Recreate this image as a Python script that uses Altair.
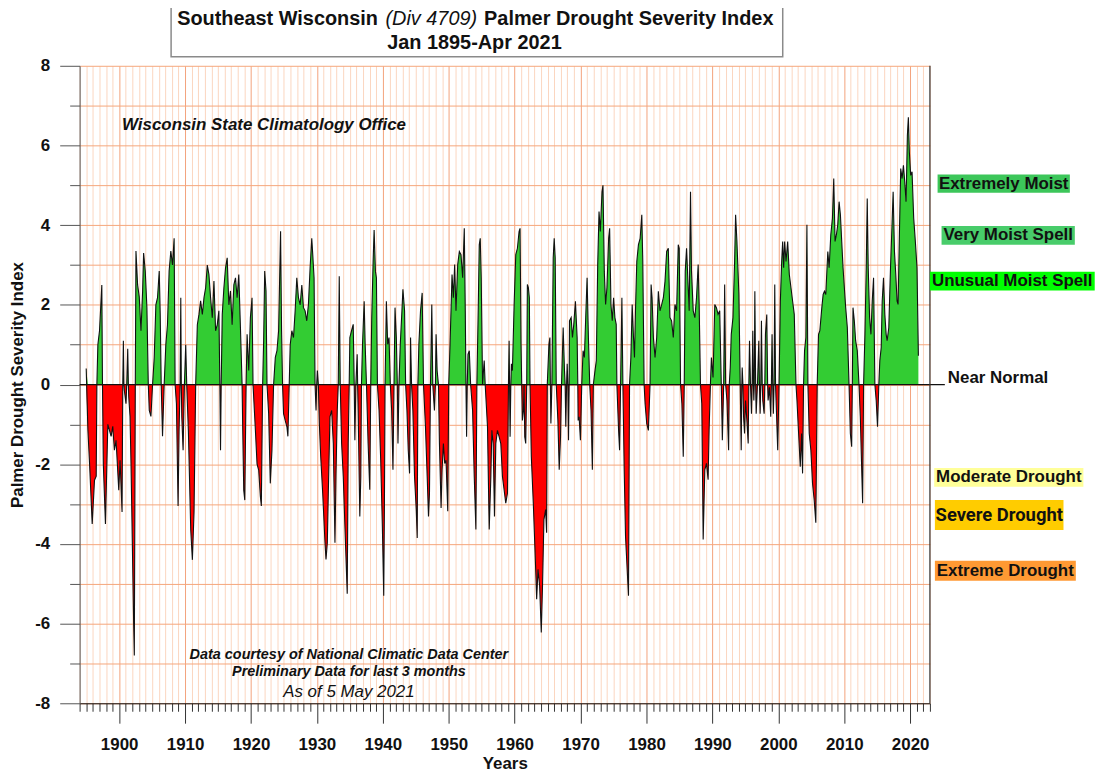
import altair as alt
import pandas as pd

# Monthly-ish PDSI readings (decimal year, index value)
era_1895_1926 = [
    (1895.00, 0.40), (1895.26, -1.15), (1895.51, -1.98), (1895.91, -3.50), (1896.26, -2.40),
    (1896.52, -2.30), (1896.62, 0.00), (1896.77, 1.00), (1897.02, 1.35), (1897.37, 2.50),
    (1897.47, 0.00), (1897.60, -2.00), (1897.92, -3.50), (1898.28, -1.00), (1898.53, -1.15),
    (1898.78, -1.30), (1899.03, -1.05), (1899.28, -1.65), (1899.53, -1.40), (1899.94, -2.65),
    (1900.14, -1.90), (1900.44, -3.20), (1900.55, 0.00), (1900.64, 1.10), (1900.72, 0.00),
    (1900.79, -0.15), (1901.04, -0.48), (1901.15, 0.00), (1901.30, 0.90), (1901.40, 0.00),
    (1901.45, -0.30), (1901.65, -0.80), (1901.80, -2.00), (1902.05, -4.50), (1902.20, -6.00),
    (1902.30, -6.80), (1902.45, 0.00), (1902.55, 3.35), (1902.80, 2.50), (1903.05, 2.20),
    (1903.31, 1.35), (1903.56, 2.35), (1903.71, 3.30), (1903.96, 2.85), (1904.21, 1.93),
    (1904.42, 0.00), (1904.57, -0.65), (1904.82, -0.80), (1905.07, 0.00), (1905.32, 0.68),
    (1905.57, 2.00), (1905.82, 2.18), (1906.08, 2.85), (1906.23, 1.76), (1906.38, 0.00),
    (1906.58, -1.30), (1906.83, 0.00), (1907.08, 1.00), (1907.33, 1.50), (1907.58, 2.85),
    (1907.84, 3.35), (1908.09, 3.00), (1908.34, 3.67), (1908.49, 0.00), (1908.69, -0.48),
    (1908.94, -3.05), (1909.09, -1.15), (1909.25, 0.00), (1909.35, 2.18), (1909.43, 0.00),
    (1909.50, -0.80), (1909.70, -1.65), (1909.90, 0.00), (1910.10, 1.00), (1910.25, 0.00),
    (1910.50, -1.15), (1910.86, -3.65), (1911.11, -4.40), (1911.36, -3.20), (1911.61, 0.00),
    (1911.86, 1.50), (1912.11, 1.76), (1912.36, 2.10), (1912.62, 1.76), (1912.87, 2.18),
    (1913.12, 2.43), (1913.37, 3.00), (1913.62, 2.76), (1913.87, 2.18), (1914.13, 1.68),
    (1914.38, 2.60), (1914.63, 1.35), (1914.88, 1.50), (1915.13, 1.85), (1915.28, 0.00),
    (1915.38, -1.65), (1915.48, 0.00), (1915.64, 1.76), (1915.89, 2.43), (1916.14, 2.93),
    (1916.39, 3.18), (1916.64, 2.00), (1916.89, 2.35), (1917.14, 1.50), (1917.40, 2.50),
    (1917.65, 2.68), (1917.90, 2.18), (1918.15, 2.76), (1918.40, 1.43), (1918.65, 0.00),
    (1918.75, -1.15), (1918.90, -2.65), (1919.06, -2.90), (1919.26, 0.00), (1919.41, 1.26),
    (1919.66, 0.35), (1919.91, 1.68), (1920.16, 2.18), (1920.31, 0.00), (1920.67, -1.15),
    (1920.92, -2.00), (1921.17, -2.15), (1921.42, -2.80), (1921.57, -3.05), (1921.77, 0.00),
    (1921.92, 1.10), (1922.08, 2.85), (1922.28, 2.35), (1922.43, 0.00), (1922.68, -0.73),
    (1922.93, -2.48), (1923.18, -1.65), (1923.43, 0.00), (1923.69, 0.68), (1923.94, 0.85),
    (1924.19, 1.35), (1924.49, 3.85), (1924.64, 1.35), (1924.79, 0.00), (1924.94, -0.73),
    (1925.19, -0.90), (1925.45, -1.06), (1925.60, -1.30), (1925.80, 0.00), (1925.95, 1.00),
    (1926.20, 1.35),
]

era_1926_1958 = [
    (1926.45, 1.18), (1926.70, 1.85), (1926.95, 2.68), (1927.20, 2.18), (1927.46, 2.00),
    (1927.71, 2.50), (1927.96, 1.93), (1928.21, 1.85), (1928.46, 1.60), (1928.71, 2.00),
    (1928.97, 2.93), (1929.22, 3.67), (1929.37, 3.26), (1929.57, 2.68), (1929.72, 0.00),
    (1929.87, -0.65), (1929.97, 0.00), (1930.07, 0.35), (1930.22, 0.00), (1930.37, -0.98),
    (1930.58, -1.81), (1930.88, -2.73), (1931.23, -3.97), (1931.38, -4.39), (1931.58, -3.97),
    (1931.73, -2.73), (1931.98, -0.81), (1932.24, -0.65), (1932.49, -1.48), (1932.74, -3.97),
    (1932.89, -2.31), (1933.09, -0.65), (1933.24, 0.00), (1933.39, 2.72), (1933.54, 0.00),
    (1933.75, -1.48), (1934.00, -2.31), (1934.25, -3.56), (1934.60, -5.25), (1934.75, -1.48),
    (1934.90, 0.00), (1935.00, 1.18), (1935.25, 1.35), (1935.51, 1.51), (1935.66, 0.00),
    (1935.76, -1.40), (1935.91, 0.00), (1936.11, 0.76), (1936.18, 0.00), (1936.26, -0.65),
    (1936.51, -3.31), (1936.66, -2.31), (1936.76, 0.00), (1936.92, 1.01), (1937.17, 2.09),
    (1937.32, 1.01), (1937.52, 0.00), (1937.77, -1.48), (1938.02, -2.64), (1938.17, 0.00),
    (1938.32, 1.68), (1938.53, 3.09), (1938.68, 3.88), (1938.88, 2.84), (1939.03, 2.68),
    (1939.18, 0.00), (1939.43, -0.65), (1939.68, -1.90), (1939.93, -3.56), (1940.14, -5.30),
    (1940.24, -3.14), (1940.34, 0.00), (1940.54, 2.09), (1940.74, 1.01), (1940.94, 1.18),
    (1941.14, 0.00), (1941.34, -0.65), (1941.54, -2.14), (1941.70, 0.00), (1941.85, 1.93),
    (1942.05, 1.18), (1942.20, 0.00), (1942.30, -1.48), (1942.45, 0.00), (1942.65, 1.01),
    (1942.90, 1.85), (1943.05, 2.39), (1943.30, 1.85), (1943.46, 0.00), (1943.66, -0.65),
    (1943.86, -1.65), (1944.06, -2.23), (1944.16, 0.00), (1944.21, 1.18), (1944.36, 0.00),
    (1944.56, -0.65), (1944.81, -2.31), (1945.07, -3.14), (1945.22, -3.85), (1945.32, 0.00),
    (1945.47, 1.01), (1945.72, 1.85), (1945.97, 2.30), (1946.17, 0.00), (1946.47, -1.06),
    (1946.73, -2.31), (1946.93, -3.31), (1947.08, -2.73), (1947.23, 0.00), (1947.43, 2.01),
    (1947.58, 0.00), (1947.83, -0.65), (1947.98, 0.00), (1948.08, 1.26), (1948.24, 0.35),
    (1948.44, 0.00), (1948.59, -1.48), (1948.84, -3.10), (1948.99, -2.14), (1949.19, -1.48),
    (1949.39, -1.98), (1949.59, -1.90), (1949.85, -3.18), (1950.00, 0.00), (1950.20, 1.01),
    (1950.50, 2.76), (1950.70, 2.18), (1950.90, 3.01), (1951.10, 1.85), (1951.36, 3.01),
    (1951.61, 3.34), (1951.86, 3.26), (1952.11, 2.68), (1952.36, 3.92), (1952.51, 1.85),
    (1952.61, 0.00), (1952.71, -1.31), (1952.81, 0.00), (1952.92, 0.76), (1953.12, 0.85),
    (1953.32, 0.00), (1953.62, -0.65), (1953.87, -2.31), (1954.12, -3.64), (1954.27, 0.00),
    (1954.47, 1.85), (1954.63, 3.51), (1954.78, 3.67), (1954.93, 2.68), (1955.13, 0.00),
    (1955.38, 0.60), (1955.53, 0.00), (1955.88, -1.06), (1956.14, -3.64), (1956.39, -2.31),
    (1956.54, -1.15), (1956.74, -1.48), (1956.94, -3.31), (1957.14, -1.48), (1957.39, -1.15),
    (1957.64, -1.31), (1957.90, -1.48), (1958.15, -2.31), (1958.40, -2.64), (1958.65, -2.98),
]

era_1958_1990 = [
    (1958.91, -2.73), (1959.06, 0.00), (1959.16, 1.10), (1959.23, 0.00), (1959.31, -1.31),
    (1959.42, 0.00), (1959.51, 0.52), (1959.66, 0.35), (1959.92, 2.01), (1960.17, 3.26),
    (1960.42, 3.42), (1960.67, 3.84), (1960.82, 3.92), (1960.97, 1.01), (1961.07, 0.00),
    (1961.17, -0.90), (1961.33, -0.65), (1961.43, 0.00), (1961.53, -1.31), (1961.68, -1.48),
    (1961.83, 0.00), (1961.93, 2.51), (1962.08, 2.43), (1962.23, 2.18), (1962.33, 0.00),
    (1962.53, -1.81), (1962.83, -2.98), (1963.19, -4.64), (1963.34, -5.39), (1963.54, -4.64),
    (1963.79, -5.05), (1964.04, -6.22), (1964.24, -4.97), (1964.44, -3.39), (1964.70, -3.14),
    (1964.85, -3.72), (1964.95, 0.00), (1965.20, 1.01), (1965.35, 1.18), (1965.42, 0.00),
    (1965.50, -0.98), (1965.65, 0.00), (1965.85, 3.18), (1966.00, 3.67), (1966.15, 3.18),
    (1966.31, 0.00), (1966.56, -0.90), (1966.76, -2.14), (1966.96, -1.31), (1967.11, 0.00),
    (1967.36, 1.43), (1967.56, 0.35), (1967.66, 0.00), (1967.76, -1.06), (1967.88, 0.00),
    (1967.97, 0.52), (1968.07, 0.00), (1968.17, -1.40), (1968.27, 0.00), (1968.32, 1.60),
    (1968.57, 1.68), (1968.77, 1.18), (1968.97, 1.51), (1969.22, 2.09), (1969.48, 1.18),
    (1969.58, 0.00), (1969.63, -0.90), (1969.78, -0.81), (1969.98, -1.40), (1970.18, 0.00),
    (1970.38, 0.85), (1970.58, 0.68), (1970.78, 1.68), (1970.99, 2.68), (1971.19, 1.18),
    (1971.39, 0.00), (1971.59, -0.65), (1971.79, -2.14), (1971.94, 0.00), (1972.19, 0.35),
    (1972.39, 0.60), (1972.60, 3.01), (1972.80, 4.34), (1973.00, 3.84), (1973.25, 4.84),
    (1973.40, 5.00), (1973.60, 2.84), (1973.80, 2.01), (1974.00, 2.43), (1974.26, 3.67),
    (1974.41, 3.92), (1974.61, 2.01), (1974.81, 1.60), (1975.01, 2.18), (1975.21, 1.68),
    (1975.41, 1.51), (1975.51, 0.00), (1975.77, -1.15), (1975.92, -1.65), (1976.07, 0.00),
    (1976.27, 2.18), (1976.42, 0.00), (1976.62, -2.14), (1976.82, -3.81), (1977.02, -4.47),
    (1977.27, -5.30), (1977.43, 0.00), (1977.63, 0.68), (1977.83, 2.01), (1978.03, 1.18),
    (1978.18, 0.68), (1978.33, 1.85), (1978.53, 3.09), (1978.78, 3.51), (1979.04, 3.67),
    (1979.29, 4.26), (1979.44, 3.09), (1979.64, 0.00), (1979.79, -0.48), (1980.04, -0.98),
    (1980.29, -1.15), (1980.54, 0.00), (1980.70, 2.51), (1980.85, 2.18), (1981.05, 1.18),
    (1981.30, 0.68), (1981.55, 1.18), (1981.80, 2.34), (1982.05, 1.85), (1982.31, 2.01),
    (1982.56, 2.18), (1982.81, 2.59), (1983.06, 3.34), (1983.31, 3.42), (1983.56, 1.68),
    (1983.81, 1.60), (1984.07, 1.18), (1984.32, 2.01), (1984.57, 1.85), (1984.82, 3.51),
    (1984.97, 3.42), (1985.17, 0.00), (1985.37, -0.48), (1985.58, -1.81), (1985.73, 0.00),
    (1985.88, 2.84), (1986.08, 3.42), (1986.33, 2.43), (1986.48, 1.85), (1986.68, 4.84),
    (1986.83, 2.84), (1987.09, 1.85), (1987.34, 1.68), (1987.59, 2.18), (1987.84, 3.01),
    (1987.99, 2.01), (1988.19, 0.00), (1988.39, -0.48), (1988.60, -3.89), (1988.85, -2.14),
    (1989.10, -1.98), (1989.35, -2.39), (1989.50, -1.15), (1989.70, 0.00), (1989.85, 0.68),
    (1990.10, 0.18), (1990.36, 2.01), (1990.61, 1.93), (1990.86, 1.76), (1991.11, 1.85),
]

era_1991_2021 = [
    (1991.35, 0.00), (1991.51, -1.40), (1991.71, 0.00), (1991.86, 2.51), (1992.01, 0.00),
    (1992.21, -0.40), (1992.46, -1.65), (1992.56, 0.00), (1992.71, 0.43), (1992.86, 1.26),
    (1993.12, 1.68), (1993.37, 3.09), (1993.52, 4.26), (1993.72, 3.59), (1993.87, 2.93),
    (1994.02, 2.26), (1994.22, 0.00), (1994.37, -1.65), (1994.47, 0.00), (1994.52, 0.43),
    (1994.63, 0.00), (1994.73, -0.81), (1994.88, -1.23), (1995.03, -0.40), (1995.23, -0.90),
    (1995.43, -1.48), (1995.53, 0.00), (1995.63, 1.10), (1995.78, 0.00), (1995.93, -0.73),
    (1996.03, 0.00), (1996.13, 1.35), (1996.22, 0.00), (1996.29, -0.40), (1996.35, 0.00),
    (1996.44, 2.34), (1996.56, 0.00), (1996.64, -0.73), (1996.84, 0.00), (1997.04, 1.10),
    (1997.14, 0.00), (1997.24, -0.73), (1997.34, 0.00), (1997.44, 1.60), (1997.56, 0.00),
    (1997.64, -0.40), (1997.85, -0.73), (1997.95, 0.00), (1998.05, 1.26), (1998.25, 1.76),
    (1998.38, 0.00), (1998.45, -0.40), (1998.65, -0.07), (1998.85, -0.81), (1998.95, 0.00),
    (1999.05, 1.26), (1999.15, 0.00), (1999.25, -0.73), (1999.35, 0.00), (1999.46, 2.51),
    (1999.58, 0.00), (1999.66, -0.40), (1999.91, -1.65), (2000.11, 0.00), (2000.31, 2.09),
    (2000.51, 3.09), (2000.66, 3.59), (2000.81, 2.93), (2000.96, 3.59), (2001.17, 3.09),
    (2001.42, 3.59), (2001.67, 2.76), (2001.92, 2.43), (2002.17, 2.09), (2002.42, 1.76),
    (2002.68, 0.00), (2002.83, -0.40), (2003.08, -1.23), (2003.33, -2.06), (2003.53, -1.23),
    (2003.68, -2.23), (2003.83, 0.00), (2003.98, 0.85), (2004.18, 1.18), (2004.34, 4.01),
    (2004.49, 0.00), (2004.69, -1.23), (2004.94, -1.65), (2005.19, -2.48), (2005.44, -2.89),
    (2005.69, -3.47), (2005.90, 0.00), (2006.10, 1.26), (2006.30, 1.35), (2006.60, 1.93),
    (2006.80, 2.26), (2007.00, 2.34), (2007.20, 2.26), (2007.51, 3.34), (2007.71, 2.93),
    (2007.96, 3.76), (2008.21, 4.17), (2008.41, 5.17), (2008.61, 3.59), (2008.81, 3.76),
    (2009.02, 4.01), (2009.22, 4.59), (2009.42, 4.26), (2009.62, 3.59), (2009.82, 2.93),
    (2010.02, 2.43), (2010.22, 1.93), (2010.47, 1.43), (2010.73, 0.00), (2010.93, -1.23),
    (2011.13, -1.56), (2011.23, 0.00), (2011.33, 1.93), (2011.53, 1.60), (2011.73, 1.10),
    (2011.98, 0.85), (2012.24, 0.00), (2012.44, -0.81), (2012.64, -2.06), (2012.79, -2.98),
    (2012.94, 0.00), (2013.14, 1.26), (2013.34, 2.93), (2013.49, 4.67), (2013.64, 2.93),
    (2013.85, 1.68), (2014.05, 1.26), (2014.25, 2.09), (2014.45, 2.68), (2014.65, 0.00),
    (2014.85, -0.40), (2015.05, -1.06), (2015.25, 0.00), (2015.40, 0.60), (2015.61, 0.93),
    (2015.76, 2.09), (2015.96, 2.68), (2016.16, 1.76), (2016.36, 1.26), (2016.51, 1.10),
    (2016.76, 1.43), (2017.02, 2.93), (2017.27, 4.09), (2017.42, 4.84), (2017.62, 3.34),
    (2017.82, 2.76), (2018.02, 2.09), (2018.17, 2.01), (2018.37, 3.76), (2018.57, 5.42),
    (2018.78, 5.17), (2018.98, 5.50), (2019.18, 5.09), (2019.38, 4.59), (2019.58, 6.25),
    (2019.73, 6.71), (2019.88, 5.84), (2020.08, 5.25), (2020.29, 5.34), (2020.54, 4.17),
    (2020.79, 3.59), (2021.04, 2.93), (2021.25, 0.72),
]

year_ticks = list(range(1894, 2024))
pdsi_ticks = list(range(-8, 9))

df = pd.DataFrame(era_1895_1926 + era_1926_1958 + era_1958_1990 + era_1991_2021,
                  columns=["t", "v"])
one = pd.DataFrame({"k": [0]})

FONT = "Liberation Sans"
W, H = 855, 641

x_axis = alt.Axis(
    values=year_ticks, format="d",
    labelExpr="datum.value % 10 === 0 ? datum.label : ''",
    tickSize={"condition": {"test": "datum.value % 10 === 0", "value": 20}, "value": 8},
    gridColor={"condition": {"test": "datum.value % 10 === 0", "value": "#f3a27c"}, "value": "#fbd6c0"},
    grid=True, gridWidth=1, tickColor="#333333", domainColor="#111111", tickWidth=1,
    labelPadding=13, labelFlush=False, labelOverlap=False, labelBound=False,
    title="Years", titleY=61, titleBaseline="middle",
)
y_axis = alt.Axis(
    values=pdsi_ticks,
    labelExpr="datum.value % 2 === 0 ? '' + datum.value : ''",
    tickSize={"condition": {"test": "datum.value % 2 === 0", "value": 20}, "value": 10},
    grid=True, gridColor="#f5a67c", gridWidth=1, tickColor="#555555", domainColor="#555555",
    labelPadding=10, labelOverlap=False,
    title="Palmer Drought Severity Index", titleX=-62, titleY=H / 2, titleBaseline="middle",
)
xs = alt.Scale(domain=[1894, 2023], nice=False, zero=False)
ys = alt.Scale(domain=[-8, 8], nice=False, zero=False)


def X(f):
    return alt.X(f, scale=xs, axis=x_axis)


def Y(f):
    return alt.Y(f, scale=ys, axis=y_axis)


base = alt.Chart(df).transform_calculate(
    pos="max(datum.v, 0)", neg="min(datum.v, 0)"
)
green = base.mark_area(color="#33cc33").encode(x=X("t:Q"), y=Y("pos:Q"), y2=alt.datum(0))
red = base.mark_area(color="#ff0000").encode(x=X("t:Q"), y=Y("neg:Q"), y2=alt.datum(0))
line = base.mark_line(color="#111111", strokeWidth=1.1).encode(x=X("t:Q"), y=Y("v:Q"))

zero_rule = alt.Chart(one).mark_rule(color="#111111", strokeWidth=1.2).encode(
    y=alt.datum(0), x=alt.value(0), x2=alt.value(870))
right_rule = alt.Chart(one).mark_rule(color="#333333", strokeWidth=1.2).encode(
    x=X("xr:Q"), y=alt.value(0), y2=alt.value(H)).transform_calculate(xr="2023")


def txt(s, x, y, size=17, weight="bold", style="normal", align="center", font=FONT):
    return alt.Chart(one).mark_text(
        text=s, fontSize=size, fontWeight=weight, fontStyle=style, align=align,
        baseline="middle", font=font, color="#111111"
    ).encode(x=alt.value(x), y=alt.value(y))


def box(x1, x2, y1, y2, fill, stroke="transparent", sw=0):
    return alt.Chart(one).mark_rect(fill=fill, stroke=stroke, strokeWidth=sw).encode(
        x=alt.value(x1), x2=alt.value(x2), y=alt.value(y1), y2=alt.value(y2))


annos = [
    box(92, 707, -70, -9, "white", "#8a8a8a", 1.5),
    txt("Southeast Wisconsin", 300, -47, 20, align="right"),
    txt("(Div 4709)", 353.6, -47, 20, weight="normal", style="italic"),
    txt("Palmer Drought Severity Index", 406.7, -47, 20, align="left"),
    txt("Jan 1895-Apr 2021", 397, -23, 20),
    txt("Wisconsin State Climatology Office", 42.7, 59.3, 17, style="italic", align="left"),
    txt("Data courtesy of National Climatic Data Center", 270.8, 592.7, 14.5, style="italic"),
    txt("Preliminary Data for last 3 months", 270.8, 609.3, 14.5, style="italic"),
    txt("As of 5 May 2021", 270.8, 629.3, 17, weight="normal", style="italic"),
    box(862.7, 995.7, 109.3, 127.7, "#3cc65a"),
    txt("Extremely Moist", 929.2, 118.5),
    box(866.7, 1000.7, 161, 180, "#48cc6a"),
    txt("Very Moist Spell", 933.7, 170.5),
    box(855, 1020.7, 207, 226, "#00ff00"),
    txt("Unusual Moist Spell", 937.8, 216.5),
    txt("Near Normal", 873, 314, align="left"),
    box(859.3, 1009.3, 404.3, 423.3, "#ffff99"),
    txt("Moderate Drought", 934.3, 413.8),
    box(860, 989.3, 436.7, 466.7, "#ffcc00"),
    txt("Severe Drought", 924.7, 452, 18.5, font="Roboto"),
    box(860, 1001.7, 497.7, 517.7, "#ff9933"),
    txt("Extreme Drought", 930.8, 507.7),
]

chart = alt.layer(green, red, line, zero_rule, right_rule, *annos).properties(
    width=W, height=H,
    padding={"left": 72, "top": 56, "right": 168, "bottom": 70},
    autosize=alt.AutoSizeParams(type="none"),
    background="white",
).configure_view(stroke="transparent").configure_axis(
    labelFont=FONT, labelFontSize=17, labelFontWeight="bold", labelColor="#111111",
    titleFont=FONT, titleFontSize=17, titleFontWeight="bold", titleColor="#111111",
)

chart.save("out.html", embed_options={"renderer": "svg", "actions": False})
